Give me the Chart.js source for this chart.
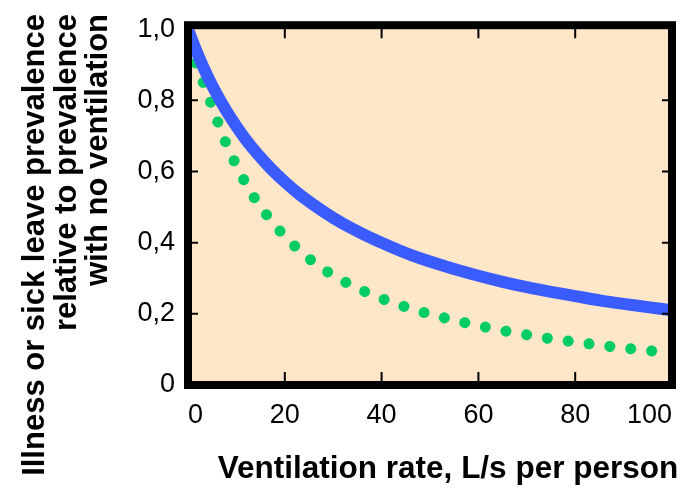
<!DOCTYPE html>
<html lang="en">
<head>
    <meta charset="UTF-8">
    <title>Ventilation rate and sick leave prevalence</title>
    <script src="https://cdn.jsdelivr.net/npm/chart.js"></script>
    <style>
        body { margin: 0; background: #fff; }
        canvas { display: block; }
    </style>
</head>
<body>
    <canvas id="ventChart" width="690" height="488"></canvas>

    <script>
        // Ventilation rate (L/s per person) and the two curves
        const ventRates = [0, 2, 4, 6, 8, 10, 12, 14, 17, 20, 23, 26, 30, 34, 38, 42, 46, 50, 55, 60, 65, 70, 75, 80, 85, 90, 95, 100];
        const solidCurve = [1.00, 0.93, 0.869, 0.816, 0.769, 0.727, 0.689, 0.655, 0.61, 0.571, 0.536, 0.506, 0.47, 0.439, 0.412, 0.388, 0.366, 0.347, 0.326, 0.307, 0.29, 0.275, 0.262, 0.25, 0.238, 0.228, 0.219, 0.21];
        const dottedCurve = [0.96, 0.89, 0.82, 0.745, 0.675, 0.617, 0.565, 0.52, 0.465, 0.418, 0.379, 0.345, 0.308, 0.279, 0.254, 0.233, 0.215, 0.199, 0.182, 0.167, 0.153, 0.141, 0.13, 0.121, 0.112, 0.104, 0.097, 0.09];

        const xTickLabels = ['0', '20', '40', '60', '80', '100'];
        const yTickLabels = ['0', '0,2', '0,4', '0,6', '0,8', '1,0'];
        const xTitle = 'Ventilation rate, L/s per person';
        const yTitleLines = ['Illness or sick leave prevalence', 'relative to prevalence', 'with no ventilation'];

        const fontFamily = '"Liberation Sans", Arial, sans-serif';

        // Peach background, thick black frame, inward tick marks and axis titles
        const framePlugin = {
            id: 'frame',
            beforeDraw(chart) {
                const { ctx, chartArea: a } = chart;
                ctx.save();
                ctx.fillStyle = '#fee6c8';
                ctx.fillRect(a.left, a.top - 4, a.right - a.left, a.bottom - a.top + 4);
                ctx.restore();
            },
            afterDatasetsDraw(chart) {
                const { ctx, chartArea: a, scales } = chart;
                ctx.save();
                ctx.strokeStyle = '#000';
                ctx.lineWidth = 2;
                ctx.beginPath();
                [20, 40, 60, 80].forEach(v => {
                    const px = scales.x.getPixelForValue(v);
                    ctx.moveTo(px, a.bottom); ctx.lineTo(px, a.bottom - 13);
                    ctx.moveTo(px, a.top - 4); ctx.lineTo(px, a.top + 9);
                });
                [0.2, 0.4, 0.6, 0.8].forEach(v => {
                    const py = scales.y.getPixelForValue(v);
                    ctx.moveTo(a.left, py); ctx.lineTo(a.left + 10, py);
                    ctx.moveTo(a.right, py); ctx.lineTo(a.right - 10, py);
                });
                ctx.stroke();

                ctx.lineWidth = 8;
                ctx.strokeRect(a.left, a.top - 4, a.right - a.left, a.bottom - a.top + 4);
                ctx.restore();
            },
            afterDraw(chart) {
                const ctx = chart.ctx;
                ctx.save();
                ctx.fillStyle = '#000';
                ctx.font = 'bold 31.5px ' + fontFamily;
                ctx.textBaseline = 'alphabetic';

                ctx.textAlign = 'center';
                ctx.fillText(xTitle, 448, 478);

                // rotated, lines end at the top
                ctx.font = 'bold 31px ' + fontFamily;
                const baselines = [44, 76, 107];
                yTitleLines.forEach((line, i) => {
                    ctx.save();
                    ctx.translate(baselines[i], 14);
                    ctx.rotate(-Math.PI / 2);
                    ctx.textAlign = 'right';
                    ctx.fillText(line, 0, 0);
                    ctx.restore();
                });
                ctx.restore();
            }
        };

        const ctx = document.getElementById('ventChart').getContext('2d');

        new Chart(ctx, {
            type: 'line',
            data: {
                datasets: [
                    {
                        label: 'Solid',
                        data: ventRates.map((x, i) => ({ x: x, y: solidCurve[i] })),
                        borderColor: '#3a5cff',
                        borderWidth: 12,
                        pointRadius: 0,
                        cubicInterpolationMode: 'monotone',
                        fill: false
                    },
                    {
                        label: 'Dotted',
                        data: ventRates.map((x, i) => ({ x: x, y: dottedCurve[i] })),
                        borderColor: '#00cc66',
                        borderWidth: 11,
                        borderDash: [0.01, 21],
                        borderCapStyle: 'round',
                        pointRadius: 0,
                        cubicInterpolationMode: 'monotone',
                        fill: false
                    }
                ]
            },
            options: {
                responsive: false,
                animation: false,
                devicePixelRatio: 1,
                layout: { padding: { top: 22, right: 18, left: 0, bottom: 0 } },
                plugins: {
                    legend: { display: false },
                    tooltip: { enabled: false }
                },
                scales: {
                    x: {
                        type: 'linear',
                        min: 0,
                        max: 100,
                        grid: { display: false, drawTicks: false },
                        border: { display: false },
                        ticks: {
                            stepSize: 20,
                            autoSkip: false,
                            maxRotation: 0,
                            align: 'inner',
                            padding: 14,
                            color: '#000',
                            font: { family: fontFamily, size: 27 },
                            callback: (value, index) => xTickLabels[index]
                        },
                        afterFit: scale => { scale.height = 103; }
                    },
                    y: {
                        min: 0,
                        max: 1,
                        grid: { display: false, drawTicks: false },
                        border: { display: false },
                        ticks: {
                            stepSize: 0.2,
                            padding: 13,
                            color: '#000',
                            font: { family: fontFamily, size: 27 },
                            callback: (value, index) => yTickLabels[index]
                        },
                        afterFit: scale => { scale.width = 188; }
                    }
                }
            },
            plugins: [framePlugin]
        });
    </script>
</body>
</html>
